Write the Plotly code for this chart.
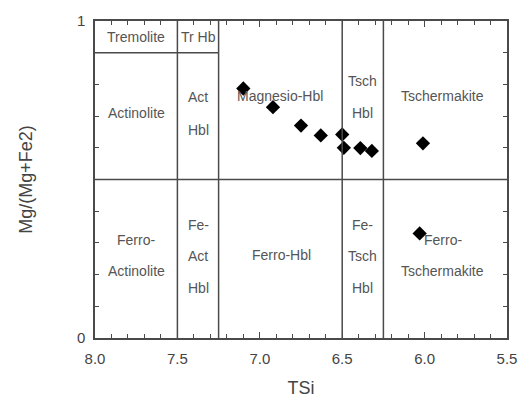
import plotly.graph_objects as go

# Data points (TSi, Mg/(Mg+Fe2))
tsi = [7.10, 6.92, 6.75, 6.63, 6.50, 6.49, 6.39, 6.32, 6.01, 6.03]
mg_ratio = [0.787, 0.728, 0.670, 0.639, 0.642, 0.600, 0.599, 0.590, 0.614, 0.330]

# Classification boundaries
vertical_full = [7.5, 7.25, 6.5, 6.25]
mg_split = 0.5
tremolite_top = 0.9
tremolite_right = 7.25

# Axis ticks
x_major = [8.0, 7.5, 7.0, 6.5, 6.0, 5.5]
y_ticks = [round(i * 0.1, 1) for i in range(11)]
y_text = ["0"] + [""] * 9 + ["1"]

# Field labels: (text, TSi, Mg ratio)
field_labels = [
    ("Tremolite", 7.75, 0.95), ("Tr Hb", 7.375, 0.95),
    ("Actinolite", 7.75, 0.71),
    ("Act", 7.375, 0.76), ("Hbl", 7.375, 0.657),
    ("Magnesio-Hbl", 6.88, 0.762),
    ("Tsch", 6.375, 0.81), ("Hbl", 6.375, 0.71),
    ("Tschermakite", 5.89, 0.762),
    ("Ferro-", 7.75, 0.309), ("Actinolite", 7.75, 0.21),
    ("Fe-", 7.375, 0.358), ("Act", 7.375, 0.259), ("Hbl", 7.375, 0.157),
    ("Ferro-Hbl", 6.87, 0.262),
    ("Fe-", 6.375, 0.358), ("Tsch", 6.375, 0.259), ("Hbl", 6.375, 0.157),
    ("Ferro-", 5.89, 0.309), ("Tschermakite", 5.89, 0.21),
]

line_col = "#4a4a4a"
text_col = "#555555"
font = "Liberation Sans, Arial, sans-serif"

fig = go.Figure()
fig.add_trace(go.Scatter(
    x=tsi, y=mg_ratio, mode="markers",
    marker=dict(symbol="diamond", size=11, color="black"),
    showlegend=False, cliponaxis=False,
))
# invisible trace to anchor mirrored tick axes
fig.add_trace(go.Scatter(x=[tsi[0]], y=[mg_ratio[0]], xaxis="x2", yaxis="y2",
                         mode="markers", marker=dict(opacity=0), showlegend=False,
                         hoverinfo="skip"))

shapes = []
for xv in vertical_full:
    shapes.append(dict(type="line", xref="x", yref="y", x0=xv, x1=xv, y0=0, y1=1,
                       line=dict(color=line_col, width=1.5)))
shapes.append(dict(type="line", xref="x", yref="y", x0=8.0, x1=5.5, y0=mg_split, y1=mg_split,
                   line=dict(color=line_col, width=1.5)))
shapes.append(dict(type="line", xref="x", yref="y", x0=8.0, x1=tremolite_right,
                   y0=tremolite_top, y1=tremolite_top, line=dict(color=line_col, width=1.5)))

annotations = []
for txt, xv, yv in field_labels:
    annotations.append(dict(x=xv, y=yv, xref="x", yref="y", text=txt, showarrow=False,
                            font=dict(family=font, size=14, color=text_col)))

common_x = dict(
    range=[8.0, 5.5], tickvals=x_major, tickformat=".1f",
    ticks="inside", ticklen=6, tickwidth=1.3, tickcolor=line_col,
    minor=dict(dtick=0.1, ticks="inside", ticklen=4, tickwidth=1.3, tickcolor=line_col),
    showline=True, linecolor=line_col, linewidth=1.5,
    showgrid=False, zeroline=False,
)
common_y = dict(
    range=[0, 1], tickvals=y_ticks, ticktext=y_text,
    ticks="inside", ticklen=4, tickwidth=1.3, tickcolor=line_col,
    showline=True, linecolor=line_col, linewidth=1.5,
    showgrid=False, zeroline=False,
)

fig.update_layout(
    width=529, height=410,
    margin=dict(l=95, r=16, t=14, b=72),
    paper_bgcolor="white", plot_bgcolor="white",
    shapes=shapes, annotations=annotations,
    font=dict(family=font, color=text_col),
    xaxis=dict(**common_x,
               tickfont=dict(size=15, color="#444444"), ticklabelstandoff=6,
               title=dict(text="TSi", font=dict(size=18, color="#444444"), standoff=16)),
    yaxis=dict(**common_y,
               tickfont=dict(size=15, color="#444444"), ticklabelstandoff=5,
               title=dict(text="Mg/(Mg+Fe2)", font=dict(size=18, color="#444444"), standoff=40)),
    xaxis2=dict(**common_x, overlaying="x", side="top", anchor="y", showticklabels=False),
    yaxis2=dict(**common_y, overlaying="y", side="right", anchor="x", showticklabels=False),
)

fig.write_html("out.html")
